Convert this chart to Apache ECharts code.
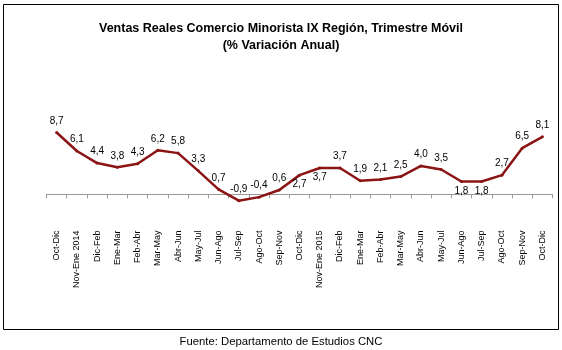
<!DOCTYPE html>
<html>
<head>
<meta charset="utf-8">
<script src="https://cdn.jsdelivr.net/npm/echarts@6/dist/echarts.min.js"></script>
<style>html,body{margin:0;padding:0;background:#fff;}#c{width:562px;height:350px;}</style>
</head>
<body>
<div id="c"></div>
<script>
var categories = ["Oct-Dic","Nov-Ene 2014","Dic-Feb","Ene-Mar","Feb-Abr","Mar-May","Abr-Jun","May-Jul","Jun-Ago","Jul-Sep","Ago-Oct","Sep-Nov","Oct-Dic","Nov-Ene 2015","Dic-Feb","Ene-Mar","Feb-Abr","Mar-May","Abr-Jun","May-Jul","Jun-Ago","Jul-Sep","Ago-Oct","Sep-Nov","Oct-Dic"];
var values = [8.7,6.1,4.4,3.8,4.3,6.2,5.8,3.3,0.7,-0.9,-0.4,0.6,2.7,3.7,3.7,1.9,2.1,2.5,4.0,3.5,1.8,1.8,2.7,6.5,8.1];
var labelsBelow = [12,13,20,21];
var titleText = "Ventas Reales Comercio Minorista IX Región, Trimestre Móvil\n(% Variación Anual)";
var footerText = "Fuente: Departamento de Estudios CNC";

var chart = echarts.init(document.getElementById('c'));
var seriesData = values.map(function(v, i){
  var below = labelsBelow.indexOf(i) >= 0;
  return {value: v, label: {position: below ? 'bottom' : 'top', distance: below ? 3 : 5}};
});
chart.setOption({
  animation: false,
  backgroundColor: '#fff',
  title: [{
    text: titleText,
    left: 'center', top: 15,
    textStyle: {fontFamily: 'Liberation Sans', fontWeight: 'bold', fontSize: 12.5, color: '#000', lineHeight: 17}
  },{
    text: footerText,
    left: 'center', top: 331,
    textStyle: {fontFamily: 'Liberation Sans', fontWeight: 'normal', fontSize: 11.3, color: '#000'}
  }],
  graphic: [{
    type: 'rect', shape: {x: 3.5, y: 4.5, width: 555, height: 325},
    style: {fill: 'none', stroke: '#000', lineWidth: 1}, silent: true
  }],
  grid: {left: 46.5, width: 506, top: 123.3, height: 85.2},
  xAxis: {
    type: 'category', data: categories, boundaryGap: true,
    axisLine: {onZero: true, lineStyle: {color: '#999', width: 1}},
    axisTick: {show: true, length: 4, lineStyle: {color: '#999'}, alignWithLabel: false},
    axisLabel: {rotate: 90, interval: 0, margin: 22, fontFamily: 'Liberation Sans', fontSize: 9, color: '#000'},
    splitLine: {show: false}
  },
  yAxis: {
    type: 'value', min: -2, max: 10, show: false, splitLine: {show: false}
  },
  series: [{
    type: 'line', data: seriesData,
    symbol: 'circle', symbolSize: 3,
    itemStyle: {color: '#8B1414'},
    lineStyle: {color: '#8B1414', width: 2.5},
    label: {show: true, fontFamily: 'Liberation Sans', fontSize: 10, color: '#000',
      formatter: function(p){ return p.value.toFixed(1).replace('.', ','); }}
  }]
});
</script>
</body>
</html>
